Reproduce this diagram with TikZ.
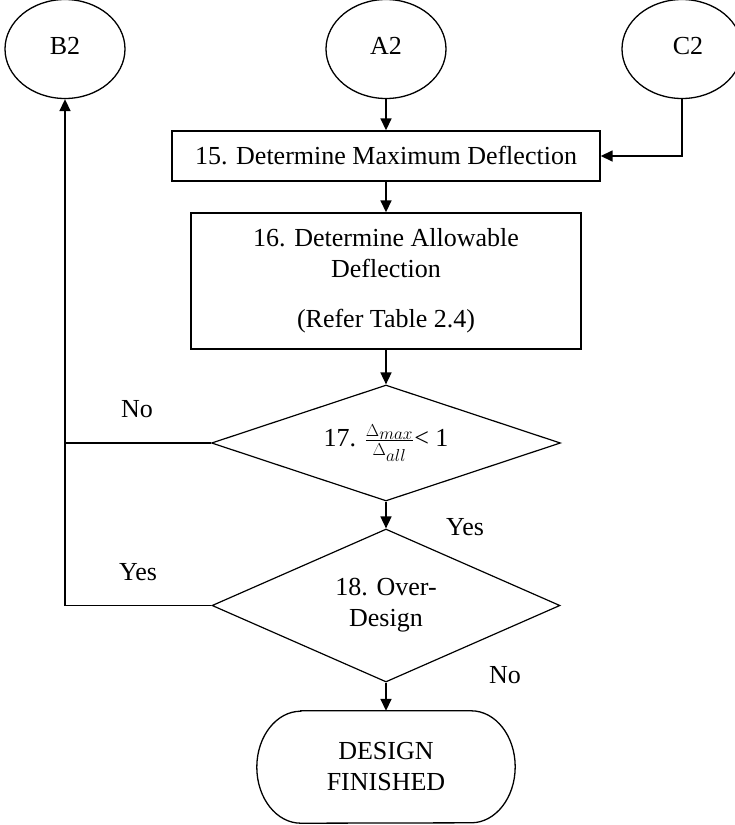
\documentclass[tikz,border=0pt]{standalone}
\usepackage{fontspec}
\setmainfont{Liberation Serif}
\usetikzlibrary{shapes.geometric,arrows.meta}

\tikzset{
  base/.style={font=\fontsize{26}{31}\selectfont, align=center, inner sep=0pt},
  connector/.style={draw, inner sep=0pt, minimum width=120pt, minimum height=99pt, ellipse, line width=1.3pt, base},
  process/.style={draw, rectangle, line width=1.4pt, base},
  decision/.style={draw, diamond, line width=1.2pt, base},
  flow/.style={line width=1.6pt, -{Triangle[length=12pt,width=11pt]}},
  link/.style={line width=1.6pt},
  tag/.style={base}
}

\begin{document}
\begin{tikzpicture}[x=1pt, y=-1pt]
  \useasboundingbox (0,0) rectangle (735,825);

  % off-page connectors
  \node[connector] (B2) at (65,49)  {\raisebox{6pt}{B2}};
  \node[connector] (A2) at (386,49) {\raisebox{6pt}{A2}};
  \node[connector] (C2) at (682,49) {\raisebox{6pt}{\hspace{12pt}C2}};

  % process steps
  \node[process, minimum width=428pt, minimum height=50pt] (s15) at (386,156)
    {15. Determine Maximum Deflection};
  \node[process, minimum width=390pt, minimum height=136pt] (s16) at (386,281)
    {16. Determine Allowable\\ Deflection\\[19pt] (Refer Table 2.4)};

  % decisions
  \node[decision, shape aspect=3, minimum width=349pt, minimum height=116pt] (d17) at (386,443)
    {17. $\frac{\Delta_{\scriptstyle max}}{\Delta_{\scriptstyle all}}$< 1};
  \node[decision, shape aspect=2.3, minimum width=348pt, minimum height=153pt] (d18) at (386,605.5)
    {18. Over-\\ Design};

  % terminal
  \node[base, minimum width=258pt, minimum height=112pt] (fin) at (386,767)
    {DESIGN\\ FINISHED};
  \draw[line width=1.3pt]
    ([xshift=44pt]fin.north west) -- ([xshift=-44pt]fin.north east)
    arc[start angle=90, end angle=-90, x radius=44pt, y radius=56pt]
    -- ([xshift=44pt]fin.south west)
    arc[start angle=270, end angle=90, x radius=44pt, y radius=56pt] -- cycle;

  % main flow
  \draw[flow] (A2.south) -- (s15.north);
  \draw[flow] (C2.south) |- (s15.east);
  \draw[flow] (s15.south) -- (s16.north);
  \draw[flow] (s16.south) -- (d17.north);
  \draw[flow] (d17.south) -- (d18.north);
  \draw[flow] (d18.south) -- (fin.north);

  % return loop to B2
  \draw[link] (d17.west) -- (B2.south |- d17.west);
  \draw[flow] (d18.west) -| (B2.south);

  % branch labels
  \node[tag] (no17)  at (137,409) {No};
  \node[tag] (yes18) at (138,572) {Yes};
  \node[tag] (yes17) at (465,527) {Yes};
  \node[tag] (no18)  at (505,675) {No};
\end{tikzpicture}
\end{document}
